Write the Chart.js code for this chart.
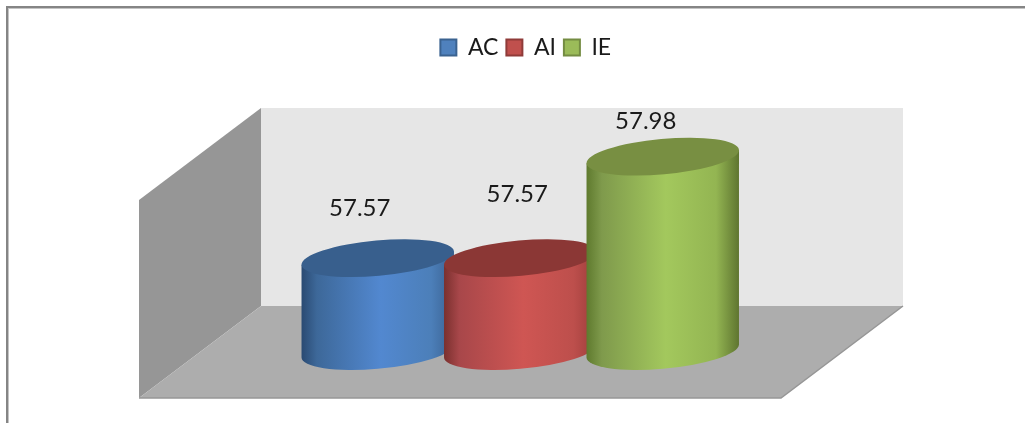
<!DOCTYPE html>
<html>
<head>
<meta charset="utf-8">
<script src="https://cdn.jsdelivr.net/npm/chart.js@4"></script>
<style>
  html, body { margin: 0; padding: 0; background: #fff; overflow: hidden; }
  #wrap { position: relative; width: 1025px; height: 423px; }
  #frame { position: absolute; left: 6px; top: 6px; right: 0; bottom: 0;
           border-left: 2px solid #858585; border-top: 2px solid #858585;
           box-shadow: inset 1px 1px 0 #c4c4c4; }
  canvas { position: absolute; left: 0; top: 0; }
</style>
</head>
<body>
<div id="wrap">
  <div id="frame"></div>
  <canvas id="myChart" width="1025" height="423"></canvas>
</div>
<script>
// 3D 원통 막대 차트

const categories = [''];
const seriesNames = ['AC', 'AI', 'IE'];
const seriesValues = [57.57, 57.57, 57.98];
const axisMin = 57.195;
const axisMax = 58.35;

const swatchColors = ['#4f81bd', '#c0504d', '#9bbb59'];
const swatchBorders = ['#3a6290', '#8f3b39', '#748c42'];
const topColors = ['#385f8d', '#8b3735', '#788f42'];
const sideStops = [
  ['#2a4a72', '#3d6899', '#5288d0', '#4c7fb9', '#3a6090'],
  ['#7a302e', '#a8474a', '#cf5653', '#bd4f4c', '#9c3c3a'],
  ['#5f7a2e', '#7f9a4c', '#a3c85d', '#93b552', '#5f7530']
];

// 값 라벨 위치 보정 (막대 윗면 중심 기준)
const labelOffsets = [[-18, -50], [-3, -64], [-17, -35]];

// 벽과 바닥
const wallDepthX = 122;
const wallDepthY = 92;
const backWall = { left: 261, right: 903, top: 108, bottom: 306 };

const cylinderPlugin = {
  id: 'cylinders',
  afterLayout(chart) {
    // 범례 위치 미세 조정
    chart.legend.left += 5.5;
    chart.legend.right += 5.5;
    chart.legend.top += 4;
    chart.legend.bottom += 4;
  },
  beforeDatasetsDraw(chart) {
    const c = chart.ctx;
    const w = backWall;
    const frontLeft = w.left - wallDepthX;
    const frontRight = w.right - wallDepthX;
    const frontY = w.bottom + wallDepthY;

    c.save();
    c.fillStyle = '#e6e6e6';
    c.fillRect(w.left, w.top, w.right - w.left, w.bottom - w.top);

    c.fillStyle = '#969696';
    c.beginPath();
    c.moveTo(frontLeft, w.top + wallDepthY);
    c.lineTo(w.left, w.top);
    c.lineTo(w.left, w.bottom);
    c.lineTo(frontLeft, frontY);
    c.closePath();
    c.fill();

    c.fillStyle = '#adadad';
    c.beginPath();
    c.moveTo(frontLeft, frontY);
    c.lineTo(w.left, w.bottom);
    c.lineTo(w.right, w.bottom);
    c.lineTo(frontRight, frontY);
    c.closePath();
    c.fill();

    c.strokeStyle = '#969696';
    c.lineWidth = 1.5;
    c.beginPath();
    c.moveTo(frontLeft, frontY);
    c.lineTo(frontRight, frontY);
    c.lineTo(w.right, w.bottom);
    c.stroke();

    chart.data.datasets.forEach((ds, i) => {
      const bar = chart.getDatasetMeta(i).data[0];
      drawCylinder(c, bar, i);
    });

    c.fillStyle = '#1a1a1a';
    c.font = '24px Lato, sans-serif';
    c.textAlign = 'center';
    c.textBaseline = 'middle';
    chart.data.datasets.forEach((ds, i) => {
      const bar = chart.getDatasetMeta(i).data[0];
      const off = labelOffsets[i];
      c.fillText(ds.data[0].toFixed(2), bar.x + off[0], bar.y + off[1]);
    });
    c.restore();
    return false;
  }
};

function drawCylinder(c, bar, i) {
  const rx = bar.width * 0.537;
  const ry = 17.7;
  const tilt = -5.2 * Math.PI / 180;
  const t0 = Math.atan2(-ry * Math.sin(tilt), rx * Math.cos(tilt));
  const cosT = Math.cos(tilt), sinT = Math.sin(tilt);
  // 타원의 좌우 끝점
  const ex = rx * Math.cos(t0) * cosT - ry * Math.sin(t0) * sinT;
  const ey = rx * Math.cos(t0) * sinT + ry * Math.sin(t0) * cosT;

  const grad = c.createLinearGradient(bar.x - ex, 0, bar.x + ex, 0);
  const stops = sideStops[i];
  [0, 0.1, 0.52, 0.85, 1].forEach((p, k) => grad.addColorStop(p, stops[k]));

  c.fillStyle = grad;
  c.beginPath();
  c.ellipse(bar.x, bar.base, rx, ry, tilt, t0, t0 + Math.PI);
  c.lineTo(bar.x - ex, bar.y - ey);
  c.lineTo(bar.x + ex, bar.y + ey);
  c.closePath();
  c.fill();

  c.fillStyle = topColors[i];
  c.beginPath();
  c.ellipse(bar.x, bar.y, rx, ry, tilt, 0, Math.PI * 2);
  c.fill();
}

const datasets = seriesNames.map((name, i) => ({
  label: name,
  data: [seriesValues[i]],
  base: axisMin,
  backgroundColor: swatchColors[i],
  borderColor: swatchBorders[i],
  borderWidth: 2,
  categoryPercentage: 1,
  barPercentage: 1
}));

new Chart(document.getElementById('myChart').getContext('2d'), {
  type: 'bar',
  data: { labels: categories, datasets: datasets },
  plugins: [cylinderPlugin],
  options: {
    responsive: false,
    animation: false,
    events: [],
    layout: { padding: { top: 24, bottom: 72, left: 306.5, right: 291 } },
    plugins: {
      tooltip: { enabled: false },
      legend: {
        position: 'top',
        labels: {
          color: '#1a1a1a',
          boxWidth: 16,
          boxHeight: 16,
          padding: 8,
          font: { family: 'Lato, sans-serif', size: 23 }
        }
      }
    },
    scales: {
      x: { display: false },
      y: {
        display: false,
        min: axisMin,
        max: axisMax
      }
    }
  }
});
</script>
</body>
</html>
